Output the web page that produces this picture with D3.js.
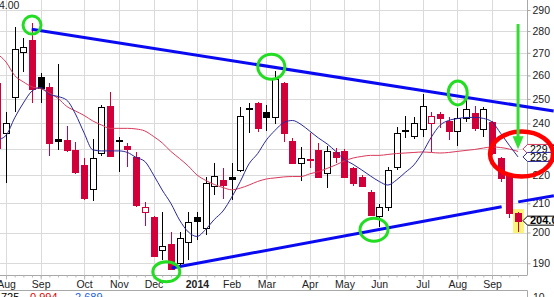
<!DOCTYPE html>
<html>
<head>
<meta charset="utf-8">
<script src="https://cdn.jsdelivr.net/npm/d3@7"></script>
<style>
  body { margin: 0; background: #fff; }
  svg { display: block; font-family: "Liberation Sans", Arial, sans-serif; }
</style>
</head>
<body>
<svg id="chart" width="554" height="297"></svg>
<script>
// weekly bars, week of Jul 29 2013 .. week of Sep 22 2014
const weeks = d3.timeMonday.range(new Date(2013, 6, 29), new Date(2014, 8, 23));

const opens = [256.7, 236.3, 250.7, 270.5, 275.8, 259.2, 254.9, 233.7, 233.4, 229.6,
  223.9, 215.0, 228.5, 247.1, 233.4, 231.1, 227.0, 206.9, 205.4, 194.4,
  196.1, 190.0, 197.0, 205.4, 201.4, 216.2, 218.3, 219.3, 222.0, 246.1,
  248.2, 244.5, 242.4, 256.9, 233.2, 224.5, 225.95, 229.6, 220.8, 228.9,
  229.2, 222.6, 219.6, 214.1, 205.6, 208.8, 223.3, 237.2, 235.1, 237.75,
  240.0, 243.65, 240.95, 237.0, 242.0, 244.1, 237.6, 240.7, 226.4, 219.8,
  206.75];
const highs = [258.0, 244.7, 282.0, 276.9, 283.9, 261.2, 256.6, 265.0, 238.9, 232.8,
  226.5, 233.7, 247.4, 253.0, 234.7, 232.4, 228.8, 210.6, 205.6, 207.1,
  200.3, 200.3, 207.1, 206.8, 219.6, 224.5, 222.6, 224.5, 246.5, 248.2,
  248.8, 247.5, 262.1, 257.3, 234.3, 230.8, 236.1, 232.1, 231.1, 230.3,
  229.8, 223.3, 220.2, 214.7, 209.8, 223.3, 238.7, 243.1, 242.7, 251.9,
  244.7, 244.7, 242.7, 246.1, 249.8, 247.1, 246.5, 240.95, 227.0, 221.0,
  207.1];
const lows = [229.6, 217.3, 244.7, 261.6, 248.4, 248.4, 227.3, 229.6, 228.8, 220.6,
  211.2, 210.9, 227.3, 226.9, 221.4, 223.3, 208.7, 202.2, 192.2, 191.05,
  187.95, 188.9, 191.05, 197.5, 199.2, 212.9, 211.4, 211.2, 221.3, 236.3,
  236.7, 237.1, 239.75, 232.8, 224.3, 218.1, 222.6, 219.1, 215.35, 224.6,
  219.1, 216.2, 215.7, 205.6, 202.0, 207.3, 222.0, 234.1, 233.8, 234.7,
  228.9, 238.0, 233.4, 231.2, 240.7, 237.1, 234.7, 227.7, 217.7, 204.8,
  200.3];
const closes = [230.3, 240.3, 271.6, 272.8, 254.0, 254.4, 232.1, 233.2, 229.6, 221.4,
  212.0, 226.4, 246.5, 227.3, 233.0, 229.9, 209.4, 208.8, 192.3, 195.5,
  188.1, 198.1, 203.7, 203.8, 217.2, 219.8, 216.5, 218.6, 243.0, 245.7,
  238.0, 242.4, 258.3, 236.1, 224.75, 226.4, 225.6, 219.6, 229.2, 226.8,
  219.6, 217.2, 216.2, 206.0, 208.6, 222.0, 236.3, 236.8, 240.0, 247.2,
  243.1, 242.0, 237.1, 242.3, 245.7, 238.3, 246.0, 228.3, 219.0, 206.75,
  204.0];
const priorClose = 234.0; // close of the week before the first bar

// moving averages (short = blue, long = red)
const shortMA = [233.4, 235.2, 242.2, 248.3, 253.3, 254.8, 251.9, 251.0, 249.5, 243.8,
  236.2, 229.6, 229.2, 229.2, 229.2, 228.6, 226.7, 225.2, 220.2, 214.7,
  209.95, 204.2, 200.2, 198.7, 201.0, 204.4, 207.3, 212.1, 217.8, 224.3,
  228.2, 233.4, 237.2, 240.3, 241.15, 239.55, 236.9, 234.2, 231.9, 229.0,
  225.95, 224.1, 222.0, 219.8, 217.8, 216.5, 218.35, 221.1, 223.9, 228.6,
  234.5, 239.2, 241.15, 241.9, 242.35, 242.4, 242.0, 240.55, 236.0, 231.3,
  226.9];
const longMA = [269.5, 265.9, 259.97, 257.2, 255.1, 254.3, 252.5, 250.2, 246.9, 245.0,
  243.2, 240.95, 239.35, 238.0, 238.0, 238.0, 237.75, 236.96, 234.8, 232.3,
  229.0, 226.3, 223.5, 220.2, 218.2, 216.7, 215.6, 214.8, 215.4, 216.5,
  217.8, 218.7, 219.1, 219.45, 219.6, 219.6, 220.6, 221.4, 222.6, 223.9,
  225.4, 226.5, 227.1, 227.5, 227.5, 227.85, 228.2, 228.4, 228.6, 228.8,
  228.6, 228.4, 228.6, 229.0, 229.4, 229.75, 230.3, 230.7, 230.5, 229.9,
  229.0];

const yTicks = [190, 200, 210, 220, 230, 240, 250, 260, 270, 280, 290];

// hand-drawn annotations, in (week index, price)
const trendLines = [
  {from: [3.96, 280.8], to: [64.1, 245.0]},
  {from: [20.09, 188.5], to: [58.11, 208.8]},
  {from: [60.02, 210.5], to: [64.13, 212.7]}
];
const greenCircles = [
  {week: 4.0, price: 282.8, rx: 9, ry: 9},
  {week: 31.57, price: 263.8, rx: 13.5, ry: 12.5},
  {week: 53.05, price: 252.5, rx: 9.5, ry: 12},
  {week: 19.47, price: 187.3, rx: 13.5, ry: 10},
  {week: 43.4, price: 200.9, rx: 14, ry: 11.5}
];
const redEllipse = {week: 60.4, price: 228.0, rx: 31.5, ry: 22.5};
const arrow = {week: 60.0, from: 283.3, to: 229.8};

const RED = '#d2003a';
const plot = {left: 0, right: 527, top: 0, bottom: 275};

const svg = d3.select('#chart');

const x = d3.scaleLinear().domain([0.31, 61.03]).range([plot.left, plot.right]);
const y = d3.scaleLog().domain([186.3, 294.9]).range([plot.bottom, plot.top]);
const px = v => Math.round(v) + 0.5;

svg.append('defs').append('clipPath').attr('id', 'plot-clip')
  .append('rect')
    .attr('x', plot.left).attr('y', plot.top)
    .attr('width', plot.right - plot.left).attr('height', plot.bottom - plot.top);

// gridlines
const monthStarts = weeks.map((d, i) => i)
  .filter(i => i > 0 && weeks[i].getMonth() !== weeks[i - 1].getMonth());

const grid = svg.append('g').attr('stroke', '#dadada').attr('shape-rendering', 'crispEdges');
grid.selectAll('line.h').data(yTicks).join('line')
  .attr('class', 'h')
  .attr('x1', plot.left).attr('x2', plot.right)
  .attr('y1', d => px(y(d))).attr('y2', d => px(y(d)));
grid.selectAll('line.v').data(monthStarts).join('line')
  .attr('class', 'v')
  .attr('x1', d => px(x(d))).attr('x2', d => px(x(d)))
  .attr('y1', plot.top).attr('y2', plot.bottom);

// last-bar highlight
const last = closes.length - 1;
svg.append('rect')
  .attr('x', Math.round(x(last)) - 5)
  .attr('y', y(highs[last]) - 2.5)
  .attr('width', 11)
  .attr('height', y(lows[last]) - y(highs[last]) + 4)
  .attr('fill', '#fbf47a');

// candles
const bars = svg.append('g').attr('clip-path', 'url(#plot-clip)').attr('shape-rendering', 'crispEdges');
const candles = closes.map((c, i) => {
  const prev = i === 0 ? priorClose : closes[i - 1];
  return {i, o: opens[i], h: highs[i], l: lows[i], c, color: c < prev ? RED : '#000', hollow: c > opens[i]};
});

const candle = bars.selectAll('g').data(candles).join('g');
candle.append('line')
  .attr('x1', d => px(x(d.i))).attr('x2', d => px(x(d.i)))
  .attr('y1', d => Math.round(y(d.h))).attr('y2', d => Math.round(y(d.l)))
  .attr('stroke', d => d.color);
candle.append('rect')
  .attr('x', d => Math.round(x(d.i)) - 2.5)
  .attr('y', d => px(y(Math.max(d.o, d.c))))
  .attr('width', 6)
  .attr('height', d => Math.max(1, Math.round(y(Math.min(d.o, d.c))) - Math.round(y(Math.max(d.o, d.c)))))
  .attr('fill', d => d.hollow ? '#fff' : d.color)
  .attr('stroke', d => d.color);

// moving averages
const maLine = d3.line().x((d, i) => x(i)).y(d => y(d)).curve(d3.curveMonotoneX);
const overlays = svg.append('g').attr('clip-path', 'url(#plot-clip)').attr('fill', 'none');
overlays.append('path').attr('d', maLine(longMA)).attr('stroke', '#d83a5c').attr('stroke-width', 1);
overlays.append('path').attr('d', maLine(shortMA)).attr('stroke', '#28289c').attr('stroke-width', 1);

// price axis
const yAxis = svg.append('g')
  .attr('transform', `translate(${plot.right + 0.5},0)`)
  .call(d3.axisRight(y).tickValues(yTicks).tickSize(3).tickPadding(2).tickFormat(d3.format('d')));
yAxis.select('.domain').attr('stroke', '#a8a8a8').attr('d', `M0,0V${plot.bottom + 0.5}`);
yAxis.selectAll('.tick line').attr('stroke', '#a8a8a8');
yAxis.selectAll('text').attr('font-size', 10.5).attr('fill', '#222');

// time axis
const weekAxis = svg.append('g')
  .attr('transform', `translate(0,${plot.bottom + 0.5})`)
  .call(d3.axisBottom(x).tickValues(d3.range(closes.length)).tickSize(2).tickFormat(''));
weekAxis.select('.domain').attr('stroke', '#a8a8a8').attr('d', `M0,0H${plot.right}`);
weekAxis.selectAll('.tick line').attr('stroke', '#b8b8b8');

const monthAxis = svg.append('g')
  .attr('transform', `translate(0,${plot.bottom + 0.5})`)
  .call(d3.axisBottom(x).tickValues(monthStarts).tickSize(4).tickPadding(1)
    .tickFormat(i => weeks[i].getMonth() === 0 ? d3.timeFormat('%Y')(weeks[i]) : d3.timeFormat('%b')(weeks[i])));
monthAxis.select('.domain').remove();
monthAxis.selectAll('.tick line').attr('stroke', '#b8b8b8');
monthAxis.selectAll('text')
  .attr('font-size', 10.5).attr('fill', '#222')
  .attr('font-weight', i => weeks[i].getMonth() === 0 ? 'bold' : null);

// lower panel edge (cut off)
svg.append('path')
  .attr('d', `M0,${plot.bottom + 15.5}H${plot.right + 0.5}V297`)
  .attr('fill', 'none').attr('stroke', '#a8a8a8');
svg.append('text').attr('x', 533).attr('y', 301).attr('font-size', 10.5).attr('fill', '#222').text('10');
const legendVals = [{t: '725', c: '#000', x: 1}, {t: '0.994', c: '#e00000', x: 30}, {t: '2.689', c: '#2060e0', x: 75}];
svg.selectAll('text.leg').data(legendVals).join('text')
  .attr('class', 'leg')
  .attr('x', d => d.x).attr('y', 301).attr('font-size', 11).attr('fill', d => d.c).text(d => d.t);
svg.append('text').attr('x', -1).attr('y', 9).attr('font-size', 10.5).attr('fill', '#222').text('4.00');

// value flags on the price axis
function flag(yc, text, stroke, bold) {
  const g = svg.append('g');
  const x0 = plot.right - 4, x1 = plot.right + 0.5, h = 4.5;
  g.append('path')
    .attr('d', `M${x0},${yc}L${x1},${yc - h}H${560}V${yc + h}H${x1}Z`)
    .attr('fill', '#fff').attr('stroke', stroke).attr('stroke-width', 1);
  g.append('text')
    .attr('x', x1 + 2.5).attr('y', yc + 3.8)
    .attr('font-size', bold ? 11 : 10.5).attr('font-weight', bold ? 'bold' : null)
    .attr('fill', '#000').text(text);
}
const fmt = d3.format('.1f');
const longY = y(longMA[last]);
const shortY = y(shortMA[last]);
flag(Math.min(longY, shortY - 8), fmt(longMA[last]), '#d83a5c', false);
flag(shortY, fmt(shortMA[last]), '#28289c', false);
flag(y(closes[last]), fmt(closes[last]), '#000', true);

// annotations
const notes = svg.append('g').attr('fill', 'none');
notes.selectAll('line.trend').data(trendLines).join('line')
  .attr('class', 'trend')
  .attr('x1', d => x(d.from[0])).attr('y1', d => y(d.from[1]))
  .attr('x2', d => x(d.to[0])).attr('y2', d => y(d.to[1]))
  .attr('stroke', '#0a0af2').attr('stroke-width', 3);
notes.selectAll('ellipse.mark').data(greenCircles).join('ellipse')
  .attr('class', 'mark')
  .attr('cx', d => x(d.week)).attr('cy', d => y(d.price))
  .attr('rx', d => d.rx).attr('ry', d => d.ry)
  .attr('stroke', '#22dd22').attr('stroke-width', 3);
notes.append('ellipse')
  .attr('cx', x(redEllipse.week)).attr('cy', y(redEllipse.price))
  .attr('rx', redEllipse.rx).attr('ry', redEllipse.ry)
  .attr('stroke', '#ff0000').attr('stroke-width', 4.5);
const ax = x(arrow.week), ayTip = y(arrow.to);
notes.append('line')
  .attr('x1', ax).attr('x2', ax).attr('y1', y(arrow.from)).attr('y2', ayTip - 10)
  .attr('stroke', '#33dd33').attr('stroke-width', 3);
notes.append('path')
  .attr('d', `M${ax - 5.5},${ayTip - 13}L${ax + 5.5},${ayTip - 13}L${ax},${ayTip}Z`)
  .attr('fill', '#33dd33');
</script>
</body>
</html>
